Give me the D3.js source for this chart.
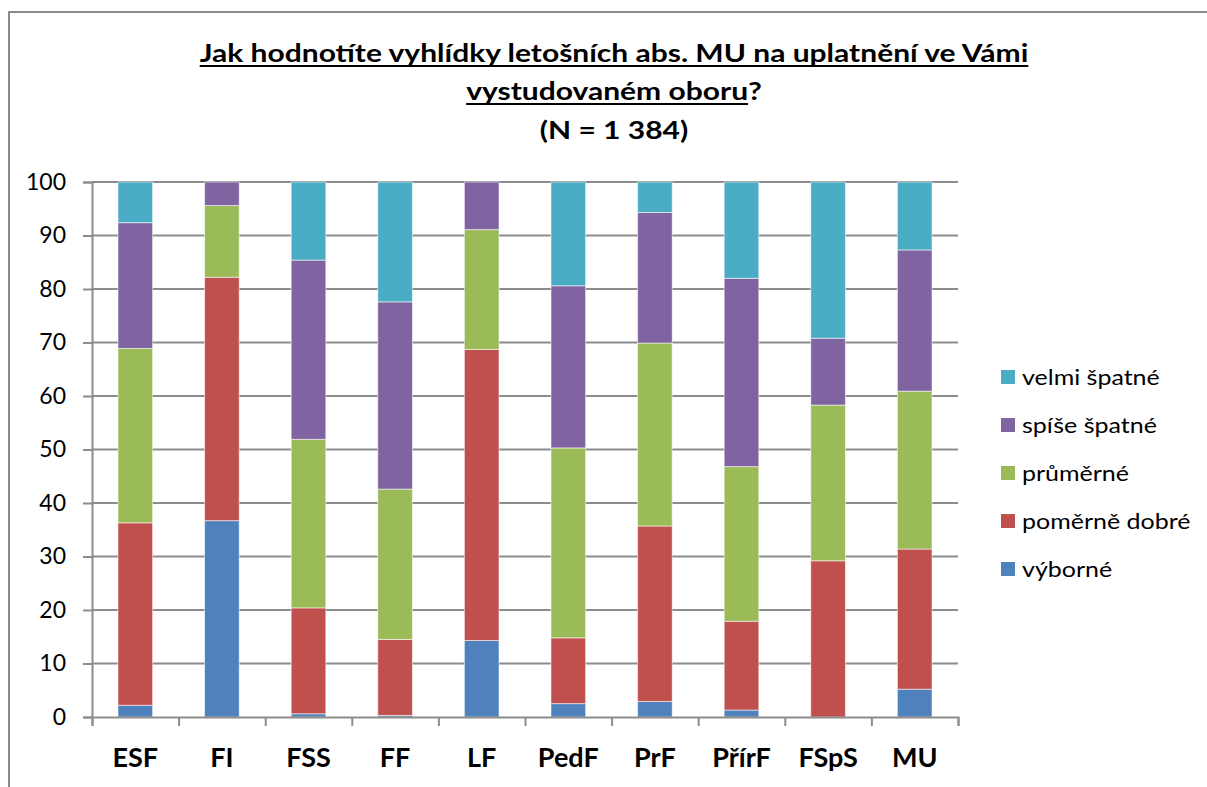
<!DOCTYPE html>
<html>
<head>
<meta charset="utf-8">
<script src="https://cdn.jsdelivr.net/npm/d3@7"></script>
<style>
  html, body { margin: 0; padding: 0; background: #fff; }
  svg { display: block; font-family: Lato, "Open Sans", sans-serif; }
</style>
</head>
<body>
<svg id="chart" width="1207" height="787"></svg>
<script>
const categories = ["ESF", "FI", "FSS", "FF", "LF", "PedF", "PrF", "PřírF", "FSpS", "MU"];
const seriesNames = ["výborné", "poměrně dobré", "průměrné", "spíše špatné", "velmi špatné"];
const seriesColors = ["#4F81BD", "#C0504D", "#9BBB59", "#8064A2", "#4BACC6"];
const vyborne      = [2.2, 36.7, 0.6, 0.3, 14.3, 2.5, 2.9, 1.3, 0.0, 5.2];
const pomerneDobre = [34.1, 45.5, 19.8, 14.2, 54.4, 12.3, 32.8, 16.6, 29.2, 26.2];
const prumerne     = [32.6, 13.4, 31.5, 28.1, 22.4, 35.5, 34.2, 28.9, 29.1, 29.5];
const spiseSpatne  = [23.5, 4.4, 33.5, 35.0, 8.9, 30.3, 24.4, 35.2, 12.5, 26.4];
const velmiSpatne  = [7.6, 0.0, 14.6, 22.4, 0.0, 19.4, 5.7, 18.0, 29.2, 12.7];
const yTicks = [0, 10, 20, 30, 40, 50, 60, 70, 80, 90, 100];
const titleLine1 = "Jak hodnotíte vyhlídky letošních abs. MU na uplatnění ve Vámi";
const titleLine2a = "vystudovaném oboru";
const titleLine2b = "?";
const titleLine3 = "(N = 1 384)";

const seriesValues = [vyborne, pomerneDobre, prumerne, spiseSpatne, velmiSpatne];
const table = categories.map((c, i) => {
  const row = { cat: c };
  seriesNames.forEach((s, j) => row[s] = seriesValues[j][i]);
  return row;
});

const svg = d3.select("#chart");
const plotL = 92, plotR = 958, plotT = 182, plotB = 717;

// chart border
svg.append("path")
  .attr("d", `M9,787 L9,12 L1207,12`)
  .attr("fill", "none").attr("stroke", "#8a8a8a").attr("stroke-width", 2);

const x = d3.scaleBand().domain(categories).range([plotL, plotR]).paddingInner(0.6).paddingOuter(0.3);
const xIdx = d3.scaleLinear().domain([0, categories.length]).range([plotL, plotR]);
const y = d3.scaleLinear().domain([0, 100]).range([plotB, plotT]);

// gridlines
svg.append("g").selectAll("line").data(yTicks.filter(d => d > 0)).join("line")
  .attr("x1", plotL).attr("x2", plotR)
  .attr("y1", d => y(d)).attr("y2", d => y(d))
  .attr("stroke", "#8c8c8c").attr("stroke-width", 2);

// bars
const stack = d3.stack().keys(seriesNames)(table);
svg.append("g").selectAll("g").data(stack).join("g")
  .attr("fill", (d, i) => seriesColors[i])
  .selectAll("rect").data(d => d).join("rect")
  .attr("x", d => x(d.data.cat))
  .attr("width", x.bandwidth())
  .attr("y", d => y(d[1]))
  .attr("height", d => Math.max(0, y(d[0]) - y(d[1])))
  .attr("stroke", "rgba(255,255,255,0.55)").attr("stroke-width", 1);

// y axis
const yAxis = svg.append("g").attr("transform", `translate(${plotL},0)`)
  .call(d3.axisLeft(y).tickValues(yTicks).tickSize(9).tickPadding(17).tickFormat(d3.format("d")));
yAxis.select(".domain").attr("stroke", "#8c8c8c").attr("stroke-width", 2);
yAxis.selectAll(".tick line").attr("stroke", "#8c8c8c").attr("stroke-width", 2);
yAxis.selectAll(".tick text").attr("font-family", "Lato").attr("font-size", 23).attr("fill", "#000");

// x axis (boundary ticks)
const xAxis = svg.append("g").attr("transform", `translate(0,${plotB})`)
  .call(d3.axisBottom(xIdx).tickValues(d3.range(0, categories.length + 1)).tickSize(9).tickFormat(""));
xAxis.select(".domain").attr("stroke", "#8c8c8c").attr("stroke-width", 2);
xAxis.selectAll(".tick line").attr("stroke", "#8c8c8c").attr("stroke-width", 2);

// x labels
const xLab = svg.append("g").attr("transform", `translate(0,${plotB})`)
  .call(d3.axisBottom(x).tickSize(0).tickPadding(31));
xLab.select(".domain").remove();
xLab.selectAll(".tick text").attr("font-family", "Lato").attr("font-weight", "bold")
  .attr("font-size", 27).attr("fill", "#000");

// title (horizontally widened to match the reference's proportions)
const cx = 614;
const tg = svg.append("g").attr("transform", `translate(${cx},0) scale(1.25,1)`);
const t1 = tg.append("text").attr("x", 0).attr("y", 62).attr("text-anchor", "middle")
  .attr("font-weight", "bold").attr("font-size", 24).text(titleLine1);
const w1 = t1.node().getComputedTextLength();
tg.append("line").attr("x1", -w1 / 2).attr("x2", w1 / 2).attr("y1", 66).attr("y2", 66)
  .attr("stroke", "#000").attr("stroke-width", 2);

const t2 = tg.append("text").attr("x", 0).attr("y", 100).attr("text-anchor", "middle")
  .attr("font-weight", "bold").attr("font-size", 24);
const s2a = t2.append("tspan").text(titleLine2a);
t2.append("tspan").text(titleLine2b);
const w2 = t2.node().getComputedTextLength();
const w2a = s2a.node().getComputedTextLength();
tg.append("line").attr("x1", -w2 / 2).attr("x2", -w2 / 2 + w2a).attr("y1", 104).attr("y2", 104)
  .attr("stroke", "#000").attr("stroke-width", 2);

tg.append("text").attr("x", 0).attr("y", 139).attr("text-anchor", "middle")
  .attr("font-weight", "bold").attr("font-size", 24).text(titleLine3);

// legend
const legendOrder = seriesNames.map((n, i) => ({ name: n, color: seriesColors[i] })).reverse();
const lg = svg.append("g").selectAll("g").data(legendOrder).join("g")
  .attr("transform", (d, i) => `translate(1001,${377 + i * 48})`);
lg.append("rect").attr("x", 0).attr("y", -7).attr("width", 14).attr("height", 14).attr("fill", d => d.color);
lg.append("text").attr("transform", "translate(21,0) scale(1.19,1)").attr("y", 8)
  .attr("font-size", 21).attr("fill", "#000").text(d => d.name);
</script>
</body>
</html>
